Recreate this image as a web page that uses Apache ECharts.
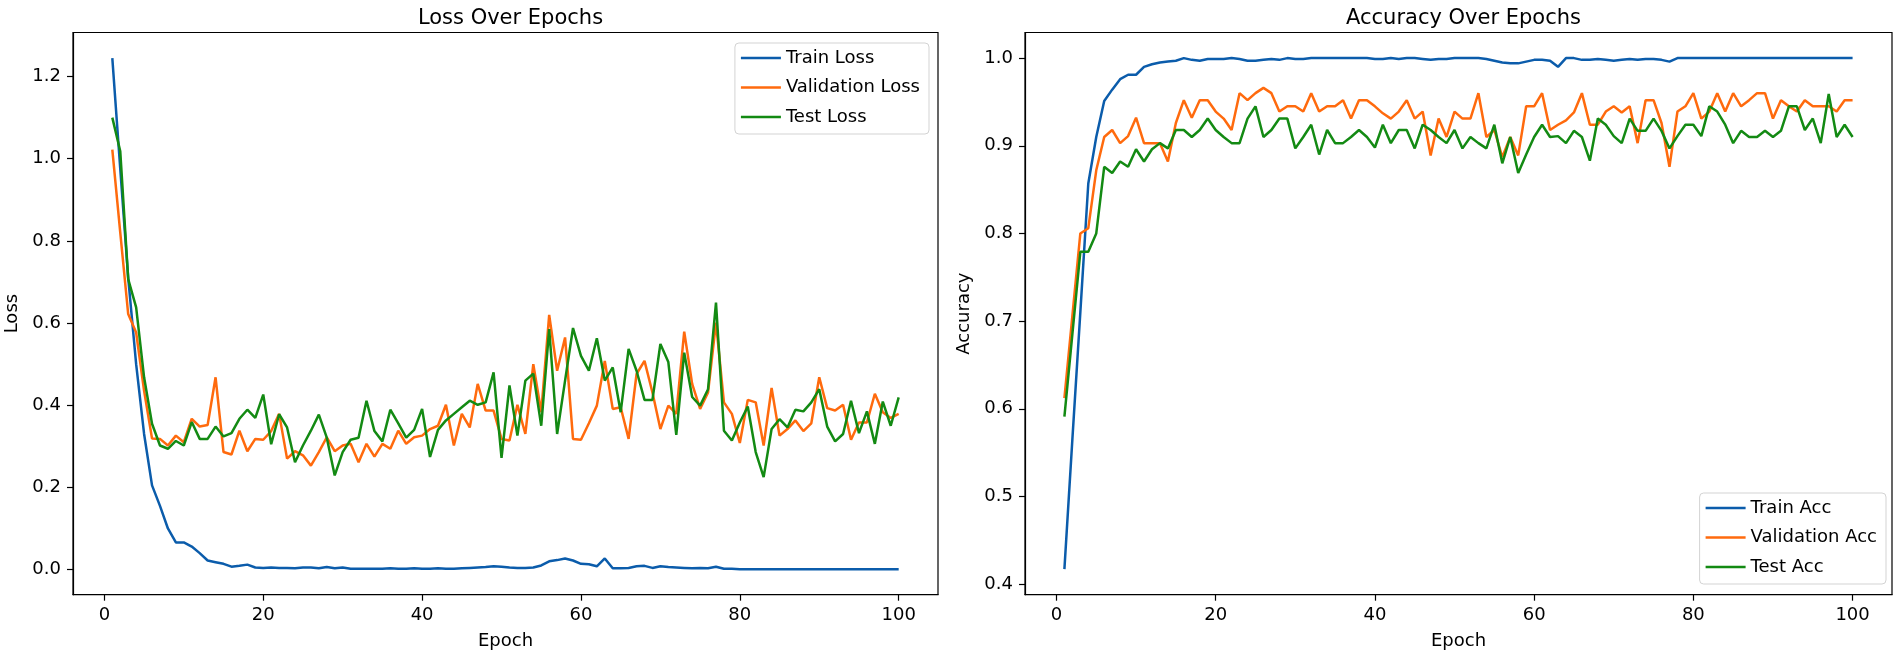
<!DOCTYPE html>
<html>
<head>
<meta charset="utf-8">
<script src="https://cdn.jsdelivr.net/npm/echarts@6/dist/echarts.min.js"></script>
<style>
html,body{margin:0;padding:0;background:#fff;}
#chart{width:1900px;height:659px;}
</style>
</head>
<body>
<div id="chart"></div>
<script>
// ---- data ----
const trainLoss = [1.245,0.975,0.71,0.50,0.33,0.205,0.155,0.10,0.066,0.066,
0.056,0.04,0.022,0.018,0.014,0.007,0.009,0.012,0.005,0.004,
0.005,0.004,0.004,0.003,0.005,0.005,0.003,0.006,0.003,0.005,
0.002,0.002,0.002,0.002,0.002,0.003,0.002,0.002,0.003,0.002,
0.002,0.003,0.002,0.002,0.003,0.004,0.005,0.006,0.008,0.007,
0.005,0.004,0.004,0.005,0.010,0.020,0.023,0.027,0.022,0.014,
0.013,0.008,0.027,0.003,0.003,0.004,0.008,0.009,0.004,0.008,
0.006,0.005,0.004,0.003,0.004,0.003,0.007,0.002,0.002,0.001,
0.001,0.001,0.001,0.001,0.001,0.001,0.001,0.001,0.001,0.001,
0.001,0.001,0.001,0.001,0.001,0.001,0.001,0.001,0.001,0.001];
const valLoss = [1.022,0.82,0.622,0.577,0.435,0.319,0.318,0.302,0.326,0.31,
0.367,0.348,0.352,0.468,0.286,0.280,0.338,0.288,0.318,0.316,
0.337,0.379,0.270,0.288,0.278,0.253,0.286,0.322,0.288,0.302,
0.306,0.261,0.306,0.275,0.306,0.294,0.338,0.306,0.322,0.326,
0.342,0.350,0.401,0.302,0.379,0.346,0.452,0.387,0.387,0.318,
0.314,0.401,0.330,0.500,0.383,0.620,0.484,0.565,0.318,0.316,
0.356,0.399,0.508,0.391,0.395,0.318,0.476,0.508,0.431,0.342,
0.399,0.379,0.579,0.452,0.391,0.431,0.601,0.407,0.379,0.308,
0.413,0.407,0.302,0.442,0.326,0.342,0.363,0.337,0.356,0.468,
0.393,0.387,0.401,0.316,0.358,0.358,0.428,0.383,0.369,0.379];
const testLoss = [1.10,1.018,0.707,0.638,0.468,0.355,0.302,0.294,0.313,0.302,
0.359,0.318,0.318,0.348,0.324,0.332,0.367,0.389,0.369,0.426,
0.305,0.378,0.346,0.261,0.302,0.338,0.377,0.321,0.229,0.286,
0.316,0.321,0.411,0.337,0.312,0.389,0.356,0.321,0.340,0.391,
0.274,0.340,0.363,0.379,0.395,0.411,0.401,0.407,0.480,0.272,
0.448,0.326,0.460,0.477,0.350,0.585,0.330,0.46,0.588,0.520,
0.484,0.563,0.460,0.492,0.383,0.537,0.484,0.413,0.413,0.549,
0.505,0.328,0.528,0.420,0.399,0.439,0.650,0.338,0.314,0.358,
0.397,0.286,0.225,0.342,0.366,0.346,0.389,0.385,0.407,0.439,
0.348,0.312,0.330,0.411,0.332,0.385,0.306,0.409,0.350,0.419];
const trainAcc = [0.417,0.565,0.71,0.857,0.91,0.951,0.964,0.976,0.981,0.981,
0.990,0.993,0.995,0.996,0.997,1.0,0.998,0.997,0.999,0.999,
0.999,1.0,0.999,0.997,0.997,0.998,0.999,0.998,1.0,0.999,
0.999,1.0,1.0,1.0,1.0,1.0,1.0,1.0,1.0,0.999,
0.999,1.0,0.999,1.0,1.0,0.999,0.998,0.999,0.999,1.0,
1.0,1.0,1.0,0.999,0.997,0.995,0.994,0.994,0.996,0.998,
0.998,0.997,0.990,1.0,1.0,0.998,0.998,0.999,0.998,0.997,
0.998,0.999,0.998,0.999,0.999,0.998,0.996,1.0,1.0,1.0,
1.0,1.0,1.0,1.0,1.0,1.0,1.0,1.0,1.0,1.0,
1.0,1.0,1.0,1.0,1.0,1.0,1.0,1.0,1.0,1.0];
const valAcc = [0.612,0.706,0.80,0.806,0.872,0.910,0.918,0.903,0.911,0.932,
0.903,0.903,0.903,0.882,0.926,0.952,0.932,0.952,0.952,0.939,
0.931,0.918,0.960,0.952,0.960,0.966,0.960,0.939,0.945,0.945,
0.939,0.960,0.939,0.945,0.945,0.952,0.931,0.952,0.952,0.945,
0.937,0.931,0.939,0.952,0.931,0.939,0.889,0.931,0.910,0.939,
0.931,0.931,0.960,0.910,0.918,0.887,0.910,0.889,0.945,0.945,
0.960,0.918,0.924,0.929,0.938,0.960,0.924,0.924,0.939,0.945,
0.938,0.945,0.903,0.952,0.952,0.926,0.876,0.939,0.945,0.960,
0.931,0.939,0.960,0.939,0.960,0.945,0.952,0.960,0.960,0.931,
0.952,0.945,0.939,0.952,0.945,0.945,0.945,0.939,0.952,0.952];
const testAcc = [0.591,0.685,0.779,0.779,0.80,0.876,0.869,0.882,0.876,0.896,
0.882,0.896,0.903,0.897,0.918,0.918,0.910,0.918,0.931,0.918,
0.910,0.903,0.903,0.931,0.945,0.910,0.918,0.931,0.931,0.897,
0.910,0.924,0.890,0.918,0.903,0.903,0.910,0.918,0.910,0.898,
0.924,0.903,0.918,0.918,0.897,0.924,0.918,0.910,0.903,0.918,
0.897,0.910,0.903,0.897,0.924,0.880,0.910,0.869,0.890,0.910,
0.924,0.910,0.911,0.903,0.917,0.910,0.883,0.931,0.924,0.911,
0.903,0.931,0.917,0.917,0.931,0.917,0.897,0.911,0.924,0.924,
0.911,0.945,0.939,0.924,0.903,0.917,0.910,0.910,0.917,0.910,
0.917,0.945,0.945,0.918,0.931,0.903,0.959,0.910,0.924,0.910];
const xTicks = [0,20,40,60,80,100];
const lossTicks = [0.0,0.2,0.4,0.6,0.8,1.0,1.2];
const accTicks = [0.4,0.5,0.6,0.7,0.8,0.9,1.0];

// ---- chart ----
const FONT = 'DejaVu Sans';
const C_BLUE = '#0b5cab', C_ORANGE = '#ff6a0d', C_GREEN = '#138a13';
const epochs = trainLoss.map((_, i) => i + 1);
const pairs = arr => arr.map((v, i) => [epochs[i], v]);

function xAxisCfg(gi) {
  return {
    type: 'value', gridIndex: gi, min: -3.95, max: 104.95,
    name: 'Epoch', nameLocation: 'middle', nameGap: 38,
    nameTextStyle: {fontFamily: FONT, fontSize: 18, color: '#000'},
    axisLine: {show: true, onZero: false, lineStyle: {color: '#000', width: 1.2}},
    axisTick: {show: true, inside: false, length: 6, lineStyle: {color: '#000', width: 1.2}, customValues: xTicks},
    axisLabel: {fontFamily: FONT, fontSize: 18, color: '#000', margin: 12, customValues: xTicks, formatter: v => String(v)},
    splitLine: {show: false}
  };
}
function yAxisCfg(gi, name, min, max, ticks) {
  return {
    type: 'value', gridIndex: gi, min: min, max: max,
    name: name, nameLocation: 'middle', nameGap: 52,
    nameTextStyle: {fontFamily: FONT, fontSize: 18, color: '#000'},
    axisLine: {show: true, onZero: false, lineStyle: {color: '#000', width: 1.2}},
    axisTick: {show: true, inside: false, length: 6, lineStyle: {color: '#000', width: 1.2}, customValues: ticks},
    axisLabel: {fontFamily: FONT, fontSize: 18, color: '#000', margin: 12, customValues: ticks, formatter: v => v.toFixed(1)},
    splitLine: {show: false}
  };
}
function legendCfg(names, pos) {
  return Object.assign({
    data: names, orient: 'vertical', icon: 'rect', itemWidth: 40, itemHeight: 2.5,
    itemGap: 9.5, itemTextGap: 15, selectedMode: false,
    backgroundColor: 'rgba(255,255,255,0.8)', borderColor: '#d3d3d3', borderWidth: 1, borderRadius: 4,
    padding: [5, 9, 7, 6],
    textStyle: {fontFamily: FONT, fontSize: 18, color: '#000', lineHeight: 20}
  }, pos);
}
function line(name, data, color, gi) {
  return {
    name: name, type: 'line', xAxisIndex: gi, yAxisIndex: gi, data: pairs(data),
    showSymbol: false, symbol: 'none', lineStyle: {color: color, width: 2.5}, itemStyle: {color: color},
    emphasis: {disabled: true}, silent: true
  };
}

const chart = echarts.init(document.getElementById('chart'), null, {renderer: 'canvas'});
chart.setOption({
  animation: false,
  backgroundColor: '#fff',
  title: [
    {text: 'Loss Over Epochs', left: 505.5, top: 3, textAlign: 'center',
     textStyle: {fontFamily: FONT, fontSize: 21, fontWeight: 'normal', color: '#000'}},
    {text: 'Accuracy Over Epochs', left: 1458.5, top: 3, textAlign: 'center',
     textStyle: {fontFamily: FONT, fontSize: 21, fontWeight: 'normal', color: '#000'}}
  ],
  grid: [
    {left: 73, right: 962, top: 32.5, bottom: 64.3, show: true, borderColor: '#000', borderWidth: 1.2, backgroundColor: 'transparent'},
    {left: 1025, right: 8, top: 32.5, bottom: 64.3, show: true, borderColor: '#000', borderWidth: 1.2, backgroundColor: 'transparent'}
  ],
  xAxis: [xAxisCfg(0), xAxisCfg(1)],
  yAxis: [
    yAxisCfg(0, 'Loss', -0.0612, 1.3072, lossTicks),
    yAxisCfg(1, 'Accuracy', 0.3879, 1.0292, accTicks)
  ],
  legend: [
    legendCfg(['Train Loss', 'Validation Loss', 'Test Loss'], {right: 971, top: 43}),
    legendCfg(['Train Acc', 'Validation Acc', 'Test Acc'], {right: 14, top: 493})
  ],
  series: [
    line('Train Loss', trainLoss, C_BLUE, 0),
    line('Validation Loss', valLoss, C_ORANGE, 0),
    line('Test Loss', testLoss, C_GREEN, 0),
    line('Train Acc', trainAcc, C_BLUE, 1),
    line('Validation Acc', valAcc, C_ORANGE, 1),
    line('Test Acc', testAcc, C_GREEN, 1)
  ]
});
</script>
</body>
</html>
